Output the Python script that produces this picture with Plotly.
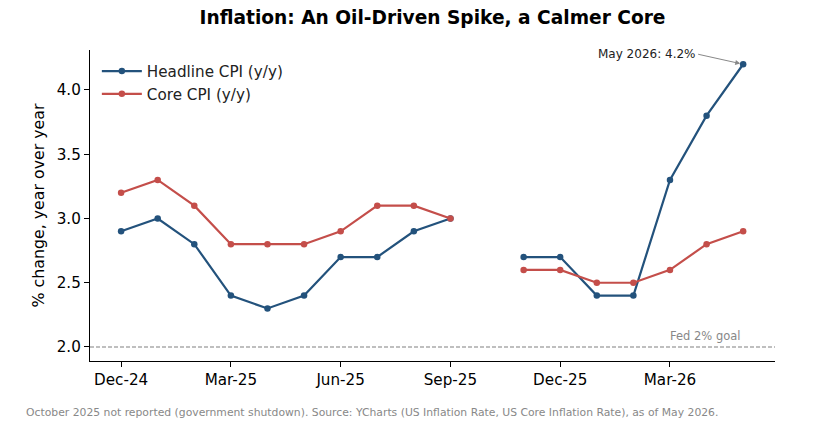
import plotly.graph_objects as go

months = ["Dec-24", "Jan-25", "Feb-25", "Mar-25", "Apr-25", "May-25", "Jun-25", "Jul-25",
          "Aug-25", "Sep-25", "Oct-25", "Nov-25", "Dec-25", "Jan-26", "Feb-26", "Mar-26",
          "Apr-26", "May-26"]
headline = [2.9, 3.0, 2.8, 2.4, 2.3, 2.4, 2.7, 2.7, 2.9, 3.0, None, 2.7, 2.7, 2.4, 2.4, 3.3, 3.8, 4.2]
core = [3.2, 3.3, 3.1, 2.8, 2.8, 2.8, 2.9, 3.1, 3.1, 3.0, None, 2.6, 2.6, 2.5, 2.5, 2.6, 2.8, 2.9]
tick_labels = ["Dec-24", "Mar-25", "Jun-25", "Sep-25", "Dec-25", "Mar-26"]
y_ticks = [2.0, 2.5, 3.0, 3.5, 4.0]

idx = list(range(len(months)))
tick_idx = [months.index(t) for t in tick_labels]

FONT = "DejaVu Sans"
BLUE = "#23527c"
RED = "#c44e4a"

fig = go.Figure()
fig.add_trace(go.Scatter(x=idx, y=headline, mode="lines+markers", name="Headline CPI (y/y)",
                         line=dict(color=BLUE, width=2.2), marker=dict(size=6.5, color=BLUE),
                         connectgaps=False))
fig.add_trace(go.Scatter(x=idx, y=core, mode="lines+markers", name="Core CPI (y/y)",
                         line=dict(color=RED, width=2.2), marker=dict(size=6.5, color=RED),
                         connectgaps=False))

fig.add_hline(y=2.0, line=dict(color="#808080", width=1.1, dash="4px,2px"))

fig.add_annotation(x=17, y=2.0, xref="x", yref="y", text="Fed 2% goal", showarrow=False,
                   xanchor="right", yanchor="bottom", yshift=2,
                   font=dict(family=FONT, size=11.5, color="#888888"))

fig.add_annotation(x=17, y=4.2, xref="x", yref="y", text="May 2026: 4.2%",
                   showarrow=True, arrowhead=2, arrowsize=1, arrowwidth=1, arrowcolor="#888888",
                   ax=-45, ay=-10, xanchor="right", yanchor="middle",
                   standoff=3,
                   font=dict(family=FONT, size=12, color="#222222"))

fig.add_annotation(xref="paper", yref="paper", x=-0.0965, y=-0.165, showarrow=False,
                   text="October 2025 not reported (government shutdown). Source: YCharts (US Inflation Rate, US Core Inflation Rate), as of May 2026.",
                   font=dict(family=FONT, size=10.8, color="#888888"), xanchor="left", yanchor="middle")

fig.update_layout(
    width=816, height=422,
    margin=dict(l=90, r=41, t=50, b=61),
    paper_bgcolor="white", plot_bgcolor="white",
    title=dict(text="<b>Inflation: An Oil-Driven Spike, a Calmer Core</b>", x=0.5, xanchor="center",
               y=0.975, yanchor="top", xref="paper",
               font=dict(family=FONT, size=18.6, color="black")),
    font=dict(family=FONT, color="black"),
    showlegend=True,
    legend=dict(x=0.01, y=0.985, xanchor="left", yanchor="top", bgcolor="rgba(0,0,0,0)",
                font=dict(family=FONT, size=15.2, color="#222222"), itemwidth=40, tracegroupgap=2),
    xaxis=dict(range=[-0.85, 17.87], tickmode="array", tickvals=tick_idx, ticktext=tick_labels,
               showgrid=False, zeroline=False, showline=True, linecolor="black", linewidth=1.2,
               ticks="outside", ticklen=5, tickcolor="black",
               tickfont=dict(family=FONT, size=15.2, color="black")),
    yaxis=dict(range=[1.891, 4.311], tickmode="array", tickvals=y_ticks,
               ticktext=[f"{v:.1f}" for v in y_ticks],
               showgrid=False, zeroline=False, showline=True, linecolor="black", linewidth=1.2,
               ticks="outside", ticklen=5, tickcolor="black",
               tickfont=dict(family=FONT, size=15.2, color="black"),
               title=dict(text="% change, year over year", font=dict(family=FONT, size=15.8, color="black"),
                          standoff=8)),
)

fig.write_html("out.html")
